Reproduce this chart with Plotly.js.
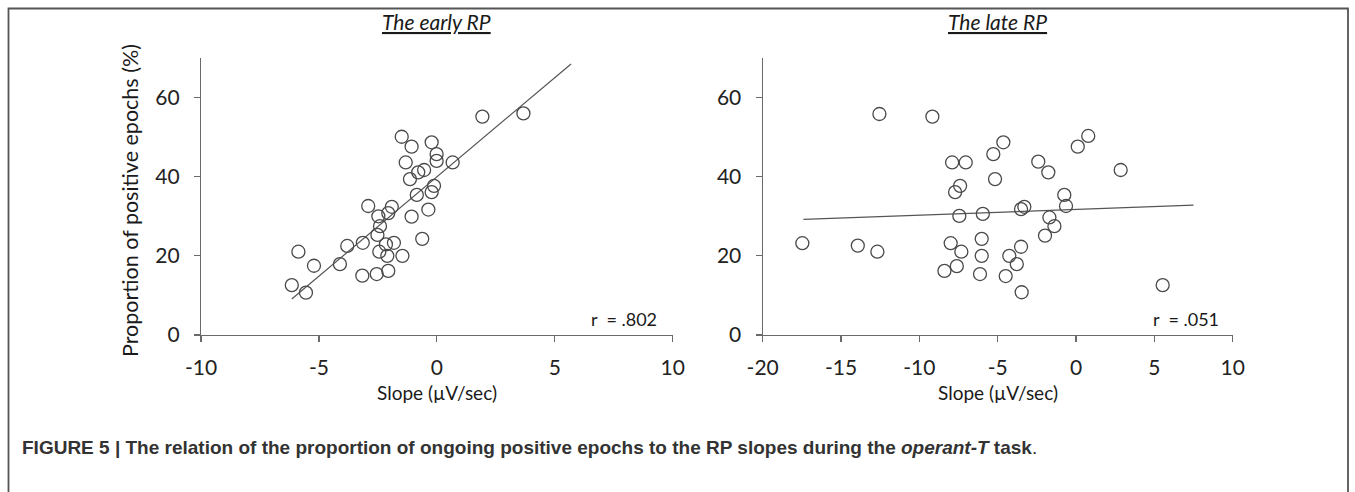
<!DOCTYPE html>
<html>
<head>
<meta charset="utf-8">
<script src="https://cdn.plot.ly/plotly-3.0.1.min.js"></script>
<style>html,body{margin:0;padding:0;background:#fff;}#chart{width:1355px;height:492px;}</style>
</head>
<body>
<div id="chart"></div>
<script>
// ---- data ----
const earlySlope = [1.93, 3.67, -1.49, -0.22, -1.07, -0.01, -0.01, -1.32, 0.67, -0.79, -0.54, -1.14, -0.12, -0.22, -0.85, -0.36, -2.91, -1.91, -2.48, -2.06, -1.07, -2.41, -2.52, -3.80, -3.14, -5.87, -2.16, -1.82, -2.44, -2.10, -1.46, -0.62, -5.21, -4.11, -6.15, -5.55, -3.16, -2.55, -2.06];
const earlyProp  = [55.2, 56.0, 50.1, 48.7, 47.6, 45.7, 44.0, 43.6, 43.6, 41.1, 41.7, 39.4, 37.7, 36.1, 35.4, 31.7, 32.6, 32.4, 30.0, 30.8, 29.9, 27.5, 25.3, 22.5, 23.3, 21.05, 22.9, 23.3, 21.05, 20.0, 20.0, 24.3, 17.5, 17.9, 12.6, 10.7, 15.0, 15.4, 16.2];
const lateSlope  = [-12.55, -9.17, -4.64, -5.28, -7.91, -7.04, -5.17, -7.40, -7.72, -7.45, -5.95, -17.47, -13.93, -12.68, -8.00, -7.32, -6.02, -6.02, -7.61, -8.40, -6.13, -4.49, -4.26, 0.78, 0.11, -2.41, -1.77, 2.85, -0.75, -0.64, -3.30, -3.51, -1.70, -1.38, -1.98, -3.51, -3.78, -3.47, 5.53];
const lateProp   = [55.85, 55.2, 48.7, 45.7, 43.6, 43.6, 39.4, 37.7, 36.1, 30.1, 30.6, 23.2, 22.6, 21.05, 23.2, 21.05, 24.3, 20.0, 17.4, 16.2, 15.4, 14.9, 20.0, 50.3, 47.6, 43.8, 41.1, 41.7, 35.4, 32.6, 32.4, 31.8, 29.7, 27.5, 25.1, 22.3, 17.9, 10.8, 12.6];
const earlyFitX = [-6.15, 5.69];
const earlyFitY = [9.1, 68.5];
const lateFitX  = [-17.4, 7.5];
const lateFitY  = [29.2, 32.8];
const earlyTicks = [-10, -5, 0, 5, 10];
const earlyTickText = ['-10', '-5', '0', '5', '10'];
const lateTicks  = [-20, -15, -10, -5, 0, 5, 10];
const lateTickText = ['-20', '-15', '-10', '-5', '0', '5', '10'];
const yTicks = [0, 20, 40, 60];
const yTickText = ['0', '20', '40', '60'];
const panelTitles = ['The early RP', 'The late RP'];
const rLabels = ['r  = .802', 'r  = .051'];
const xTitle = 'Slope (\u00b5V/sec)';
const yTitle = 'Proportion of positive epochs (%)';
const caption = '<b>FIGURE 5 | The relation of the proportion of ongoing positive epochs to the RP slopes during the <i>operant-T</i> task</b>.';

const W = 1355, H = 492;
const px = v => v / W;
const py = v => 1 - v / H;
const FONT = 'Lato, "Open Sans", sans-serif';
const markerStyle = {symbol: 'circle-open', size: 13, color: '#4a4a4a', line: {width: 1.3}};
const lineStyle = {color: '#555', width: 1.2};

const traces = [
  {x: earlyFitX, y: earlyFitY, mode: 'lines', line: lineStyle, xaxis: 'x', yaxis: 'y', hoverinfo: 'skip'},
  {x: earlySlope, y: earlyProp, mode: 'markers', marker: markerStyle, xaxis: 'x', yaxis: 'y'},
  {x: lateFitX, y: lateFitY, mode: 'lines', line: lineStyle, xaxis: 'x2', yaxis: 'y2', hoverinfo: 'skip'},
  {x: lateSlope, y: lateProp, mode: 'markers', marker: markerStyle, xaxis: 'x2', yaxis: 'y2'}
];

const axisCommon = {
  showgrid: false, zeroline: false, showline: true, linecolor: '#6a6a6a', linewidth: 1.2,
  ticks: 'outside', ticklen: 6, tickcolor: '#6a6a6a', tickwidth: 1.2,
  tickfont: {family: FONT, size: 21, color: '#222'}, fixedrange: true, tickmode: 'array'
};
const yDomain = [py(335), py(58)];

function ann(text, x, y, size, extra) {
  return Object.assign({text: text, xref: 'paper', yref: 'paper', x: px(x), y: py(y),
    xanchor: 'center', yanchor: 'middle', showarrow: false,
    font: {family: FONT, size: size, color: '#1a1a1a'}}, extra || {});
}

const layout = {
  width: W, height: H, showlegend: false,
  paper_bgcolor: '#fff', plot_bgcolor: 'rgba(0,0,0,0)',
  margin: {l: 0, r: 0, t: 0, b: 0},
  xaxis: Object.assign({}, axisCommon, {domain: [px(201), px(672.7)], range: [-10, 10], tickvals: earlyTicks, ticktext: earlyTickText, anchor: 'y', ticklabelstandoff: 8}),
  yaxis: Object.assign({}, axisCommon, {domain: yDomain, range: [0, 70], tickvals: yTicks, ticktext: yTickText, anchor: 'x', ticklabelstandoff: 10}),
  xaxis2: Object.assign({}, axisCommon, {domain: [px(762.7), px(1232.7)], range: [-20, 10], tickvals: lateTicks, ticktext: lateTickText, anchor: 'y2', ticklabelstandoff: 8}),
  yaxis2: Object.assign({}, axisCommon, {domain: yDomain, range: [0, 70], tickvals: yTicks, ticktext: yTickText, anchor: 'x2', ticklabelstandoff: 10}),
  shapes: [
    {type: 'rect', xref: 'paper', yref: 'paper', x0: px(8.5), x1: px(1348), y0: -0.05, y1: py(8.5), line: {color: '#555', width: 1.8}, fillcolor: 'rgba(0,0,0,0)'}
  ],
  annotations: [
    ann('<i><u>' + panelTitles[0] + '</u></i>', 436, 21, 21),
    ann('<i><u>' + panelTitles[1] + '</u></i>', 997, 21, 21),
    ann(rLabels[0], 624, 319, 18),
    ann(rLabels[1], 1186, 319, 18),
    ann(xTitle, 437, 392, 19),
    ann(xTitle, 998, 392, 19),
    ann(yTitle, 130, 201, 21.5, {textangle: -90}),
    ann(caption, 20, 447, 19, {xanchor: 'left', font: {family: '"Liberation Sans", Arial, sans-serif', size: 19, color: '#333'}})
  ]
};

Plotly.newPlot('chart', traces, layout, {staticPlot: true, displayModeBar: false});
</script>
</body>
</html>
